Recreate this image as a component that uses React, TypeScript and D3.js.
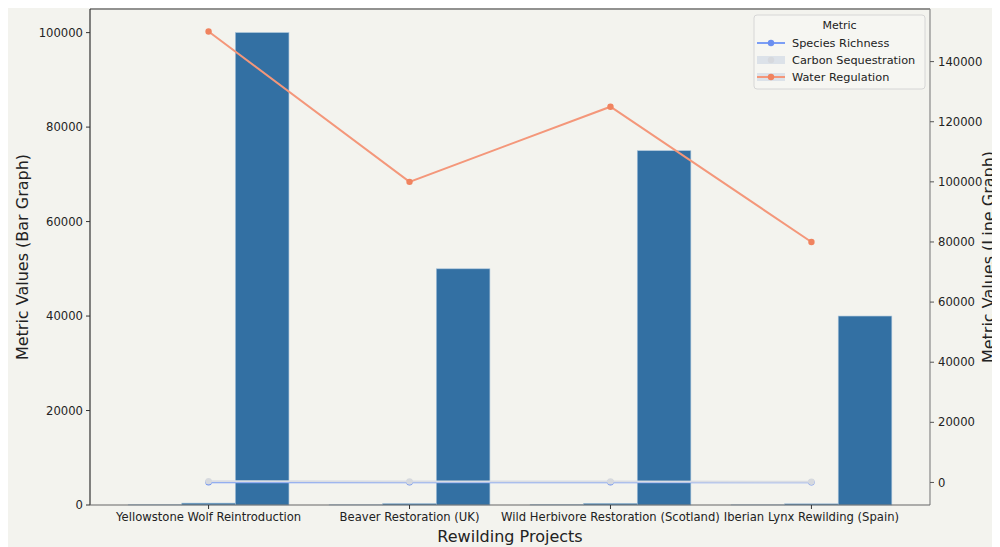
import React from 'react';
import * as d3 from 'd3';

const projects = [
  'Yellowstone Wolf Reintroduction',
  'Beaver Restoration (UK)',
  'Wild Herbivore Restoration (Scotland)',
  'Iberian Lynx Rewilding (Spain)',
];
const metrics = ['Species Richness', 'Carbon Sequestration', 'Water Regulation'];

// bar graph values (per metric, per project)
const barSpecies = [50, 40, 60, 30];
const barCarbon = [400, 300, 350, 250];
const barWater = [100000, 50000, 75000, 40000];

// line graph values
const lineSpecies = [50, 40, 60, 30];
const lineCarbon = [400, 300, 350, 250];
const lineWater = [150000, 100000, 125000, 80000];

const leftTicks = [0, 20000, 40000, 60000, 80000, 100000];
const rightTicks = [0, 20000, 40000, 60000, 80000, 100000, 120000, 140000];

const lineColors = ['#7b9ef5', '#dadde3', '#f4977a'];
const dotColors = ['#6a8ff0', '#d6d9de', '#f0835f'];
const barColor = '#3370a3';
const bg = '#f3f3ee';
const font = 'DejaVu Sans, sans-serif';
const tickSize = 11.6;

const W = 992;
const H = 539;
// plot frame (svg coords = page coords - 8)
const left = 82;
const right = 922;
const top = 1;
const bottom = 497;

const App = () => {
  const x = d3.scaleLinear().domain([-0.59, 3.59]).range([left, right]);
  const yL = d3.scaleLinear().domain([0, 105000]).range([bottom, top]);
  const yR = d3.scaleLinear().domain([-7500, 157500]).range([bottom, top]);

  const barSeries = [barSpecies, barCarbon, barWater];
  const lineSeries = [lineSpecies, lineCarbon, lineWater];
  const bw = 0.8 / 3;

  const line = d3
    .line<number>()
    .x((_, i) => x(i))
    .y((d) => yR(d));

  return (
    <svg width={W} height={H} style={{ display: 'block', background: bg }} fontFamily={font}>
      <rect x={0} y={0} width={W} height={H} fill={bg} />

      {/* bars */}
      {barSeries.map((vals, m) =>
        vals.map((v, i) => {
          const x0 = x(i - 0.4 + m * bw);
          const x1 = x(i - 0.4 + (m + 1) * bw);
          return (
            <rect
              key={`b${m}-${i}`}
              x={x0}
              y={yL(v)}
              width={x1 - x0}
              height={bottom - yL(v)}
              fill={barColor}
              stroke="#a8c3da"
              strokeWidth={0.6}
            />
          );
        })
      )}

      {/* lines */}
      {lineSeries.map((vals, m) => (
        <g key={`l${m}`}>
          <path d={line(vals) || ''} fill="none" stroke={lineColors[m]} strokeWidth={2} />
          {vals.map((v, i) => (
            <circle key={i} cx={x(i)} cy={yR(v)} r={3.2} fill={dotColors[m]} />
          ))}
        </g>
      ))}

      {/* spines */}
      <line x1={left} x2={right} y1={top} y2={top} stroke="#333" strokeWidth={1.2} />
      <line x1={left} x2={left} y1={top} y2={bottom} stroke="#333" strokeWidth={1.2} />
      <line x1={right} x2={right} y1={top} y2={bottom} stroke="#888" strokeWidth={1.2} />
      <line x1={left} x2={right} y1={bottom} y2={bottom} stroke="#666" strokeWidth={1.2} />

      {/* left axis */}
      {leftTicks.map((t) => (
        <g key={`lt${t}`} transform={`translate(${left},${yL(t)})`}>
          <line x1={-4} x2={0} stroke="#333" />
          <text x={-7} dy="0.35em" textAnchor="end" fontSize={tickSize} fill="#222">
            {t}
          </text>
        </g>
      ))}

      {/* right axis */}
      {rightTicks.map((t) => (
        <g key={`rt${t}`} transform={`translate(${right},${yR(t)})`}>
          <line x1={0} x2={4} stroke="#555" />
          <text x={8} dy="0.35em" textAnchor="start" fontSize={tickSize} fill="#222">
            {t}
          </text>
        </g>
      ))}

      {/* x axis */}
      {projects.map((p, i) => (
        <g key={p} transform={`translate(${x(i)},${bottom})`}>
          <line y1={0} y2={4} stroke="#333" />
          <text y={15.5} textAnchor="middle" fontSize={tickSize} fill="#222">
            {p}
          </text>
        </g>
      ))}

      <text x={(left + right) / 2} y={534} textAnchor="middle" fontSize={16} fill="#222">
        Rewilding Projects
      </text>
      <text
        transform={`translate(20,${(top + bottom) / 2}) rotate(-90)`}
        textAnchor="middle"
        fontSize={16}
        fill="#222"
      >
        Metric Values (Bar Graph)
      </text>
      <text
        transform={`translate(986,${(top + bottom) / 2}) rotate(-90)`}
        textAnchor="middle"
        fontSize={16}
        fill="#222"
      >
        Metric Values (Line Graph)
      </text>

      {/* legend */}
      <g transform="translate(746,7)">
        <rect x={0} y={0} width={171} height={74} rx={3} fill="#f6f6f2" fillOpacity={0.9} stroke="#d6d6d6" />
        <text x={85.5} y={10} dy="0.35em" textAnchor="middle" fontSize={11} fill="#222">
          Metric
        </text>
        {metrics.map((m, i) => {
          const cy = 28 + i * 17;
          return (
            <g key={m}>
              {i > 0 && <rect x={3} y={cy - 4} width={28} height={8} fill="#dce2e9" />}
              {i !== 1 && <line x1={3} x2={31} y1={cy} y2={cy} stroke={lineColors[i]} strokeWidth={2} />}
              <circle cx={17} cy={cy} r={3.2} fill={dotColors[i]} />
              <text x={38} y={cy} dy="0.35em" fontSize={11.3} fill="#222">
                {m}
              </text>
            </g>
          );
        })}
      </g>
    </svg>
  );
};

export default App;
